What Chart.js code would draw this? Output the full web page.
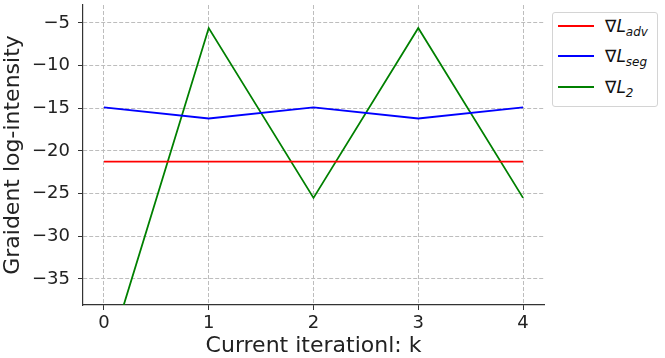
<!DOCTYPE html>
<html>
<head>
<meta charset="utf-8">
<script src="https://cdn.jsdelivr.net/npm/chart.js@4/dist/chart.umd.min.js"></script>
<style>
    html, body { margin: 0; padding: 0; background: #fff; }
    #wrap { position: relative; width: 665px; height: 358px; }
    #legend {
        position: absolute; left: 552px; top: 12px; width: 104px; height: 93px;
        border: 1px solid #d4d4d4; border-radius: 3px; background: #fff;
        font-family: "DejaVu Sans", sans-serif; font-size: 17px; color: #111;
    }
    .entry { position: absolute; left: 0; height: 24px; line-height: 24px; white-space: nowrap; }
    .swatch { position: absolute; left: 5px; top: 11px; width: 36px; height: 2px; }
    .lbl { position: absolute; left: 52px; top: 0; }
    .lbl i { font-style: italic; }
    .lbl sub { font-size: 12px; vertical-align: -4px; line-height: 0; }
</style>
</head>
<body>
<div id="wrap">
    <canvas id="chart" width="665" height="358"></canvas>
    <div id="legend"></div>
</div>
<script>
// iterations on the x axis
var iterations = [0, 1, 2, 3, 4];

// gradient log-intensity per loss term
var advValues = [-21.25, -21.25, -21.25, -21.25, -21.25];
var segValues = [-14.9, -16.2, -14.9, -16.2, -14.9];
var l2Values = [-45.6, -5.6, -25.5, -5.6, -25.5];

// tick labels
var xTicks = [0, 1, 2, 3, 4];
var yTicks = [-35, -30, -25, -20, -15, -10, -5];

var seriesNames = ["adv", "seg", "2"];
var seriesColors = ["#ff0000", "#0000ff", "#008000"];
var seriesValues = [advValues, segValues, l2Values];

function toPoints(values) {
    return iterations.map((k, i) => ({ x: k, y: values[i] }));
}

document.addEventListener("DOMContentLoaded", event => {
    var datasets = [];
    for (var i = 0; i < seriesValues.length; i++) {
        datasets.push({
            label: "∇L_" + seriesNames[i],
            data: toPoints(seriesValues[i]),
            borderColor: seriesColors[i],
            borderWidth: 1.8,
            pointRadius: 0,
            tension: 0,
            fill: false
        });
    }

    // legend with subscripts as html text
    var legend = document.getElementById("legend");
    var rowTops = [1, 31, 62];
    for (var i = 0; i < seriesNames.length; i++) {
        legend.innerHTML += `
            <div class="entry" style="top:${rowTops[i]}px">
                <div class="swatch" style="background:${seriesColors[i]}"></div>
                <div class="lbl">∇<i>L</i><sub><i>${seriesNames[i]}</i></sub></div>
            </div>`;
    }

    var font = "'DejaVu Sans', sans-serif";
    var gridStyle = {
        color: "#bdbdbd",
        lineWidth: 1,
        tickLength: 5,
        tickColor: "#333",
        tickBorderDash: [],
        tickWidth: 1
    };
    // in v4 border.dash is what dashes the grid lines
    var borderStyle = { display: true, color: "#333", width: 1.2, dash: [4, 2] };
    var minus = v => String(v).replace("-", "\u2212");

    new Chart(document.getElementById("chart"), {
        type: "line",
        data: { datasets: datasets },
        options: {
            responsive: false,
            animation: false,
            layout: { padding: { top: 5, right: 121, left: 0, bottom: 0 } },
            plugins: { legend: { display: false }, tooltip: { enabled: false } },
            scales: {
                x: {
                    type: "linear",
                    min: -0.2,
                    max: 4.2,
                    afterBuildTicks: axis => { axis.ticks = xTicks.map(v => ({ value: v })); },
                    afterFit: axis => {
                        axis.height = 53;
                        axis.paddingLeft = 0;
                        axis.paddingRight = 0;
                    },
                    grid: gridStyle,
                    border: borderStyle,
                    ticks: { color: "#222", font: { family: font, size: 18 }, padding: 3, callback: minus },
                    title: {
                        display: true, text: "Current iterationl: k", color: "#222",
                        font: { family: font, size: 22 }, padding: { top: 0, bottom: -1 }
                    }
                },
                y: {
                    type: "linear",
                    min: -38.05,
                    max: -2.9,
                    afterBuildTicks: axis => { axis.ticks = yTicks.map(v => ({ value: v })); },
                    afterFit: axis => {
                        axis.width = 83;
                        // the end labels are not at the axis ends, no room needed for them
                        axis.paddingTop = 0;
                        axis.paddingBottom = 0;
                    },
                    grid: gridStyle,
                    border: borderStyle,
                    ticks: { color: "#222", font: { family: font, size: 18 }, padding: 8, callback: minus },
                    title: {
                        display: true, text: "Graident log-intensity", color: "#222",
                        font: { family: font, size: 22 }, padding: { top: 0, bottom: 0 }
                    }
                }
            }
        }
    });
});
</script>
</body>
</html>
